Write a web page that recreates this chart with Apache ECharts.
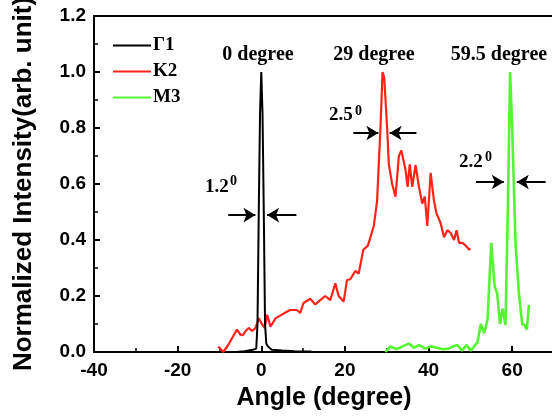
<!DOCTYPE html>
<html>
<head>
<meta charset="utf-8">
<script src="https://cdn.jsdelivr.net/npm/echarts@6/dist/echarts.min.js"></script>
<style>
  html, body { margin: 0; padding: 0; background: #fff; }
  #main { width: 552px; height: 416px; }
</style>
</head>
<body>
<div id="main"></div>
<script>
// Γ1 curve
var gammaAngle = [-6, -4, -2, -1.2, -0.9, -0.6, -0.3, 0, 0.3, 0.6, 0.9, 1.2, 1.6, 2.5, 5, 8, 12];
var gammaValue = [0, 0.003, 0.008, 0.012, 0.1, 0.5, 0.85, 1.0, 0.85, 0.5, 0.1, 0.03, 0.02, 0.008, 0.005, 0.003, 0.002];

// K2 curve
var k2Angle = [-10.3, -9.1, -7.9, -6.7, -5.8, -5, -4.4, -3.8, -3, -2.2, -1.4, -0.6, 0.15, 0.8, 1.4, 2.2, 3.4, 4.5, 5.7, 6.9, 8.5, 9.3, 10.1, 11.7, 12.9, 14.1, 15.3, 16.5, 17.7, 18.5, 19.7, 20.5, 21.3, 22.5, 23.3, 24.4, 25.5, 26.3, 26.9, 27.7, 28.5, 29, 29.4, 30.1, 30.5, 31.3, 32.1, 32.9, 33.5, 34.5, 35, 35.5, 36.1, 36.9, 37.7, 38.5, 39.1, 39.7, 40.5, 41.3, 41.9, 42.9, 43.7, 44.5, 45.3, 46.1, 46.7, 47.3, 48.1, 48.9, 49.7, 50];
var k2Value = [0.02, 0, 0.025, 0.057, 0.08, 0.062, 0.06, 0.074, 0.086, 0.075, 0.085, 0.12, 0.1, 0.086, 0.133, 0.09, 0.12, 0.13, 0.14, 0.15, 0.15, 0.14, 0.175, 0.19, 0.17, 0.185, 0.2, 0.185, 0.245, 0.2, 0.18, 0.257, 0.26, 0.29, 0.28, 0.365, 0.38, 0.42, 0.45, 0.54, 0.8, 1.0, 0.98, 0.8, 0.67, 0.6, 0.555, 0.7, 0.72, 0.65, 0.59, 0.67, 0.59, 0.668, 0.59, 0.53, 0.555, 0.45, 0.64, 0.54, 0.495, 0.46, 0.41, 0.435, 0.425, 0.4, 0.435, 0.39, 0.39, 0.38, 0.365, 0.37];

// M3 curve
var m3Angle = [29.7, 30.9, 32.3, 33.8, 35.3, 36.5, 37.8, 39.2, 40.6, 42, 43.4, 44.8, 45.8, 46.9, 48, 49.1, 50.1, 51.7, 52.5, 53.3, 54.1, 55, 55.8, 56.4, 57.1, 57.7, 58.4, 59, 59.5, 60, 60.8, 61.6, 62.4, 63, 63.5, 64];
var m3Value = [0, 0.02, 0.01, 0.02, 0.03, 0.015, 0.025, 0.012, 0.02, 0.015, 0.01, 0.012, 0.02, 0.025, 0.005, 0.025, 0.005, 0.035, 0.1, 0.067, 0.115, 0.39, 0.235, 0.21, 0.1, 0.155, 0.096, 0.54, 1.0, 0.8, 0.39, 0.21, 0.1, 0.096, 0.08, 0.168];

var seriesNames = ['\u03931', 'K2', 'M3'];

// FWHM arrows [fromX, toX, y]
var fwhmArrows = [
  [-7.9, -1.4, 0.489], [8.4, 1.4, 0.489],
  [22.0, 28.0, 0.782], [37.1, 30.7, 0.782],
  [51.3, 58.0, 0.607], [68.0, 61.1, 0.607]
];

function pairs(xs, ys) {
  return xs.map(function (x, i) { return [x, ys[i]]; });
}

var chart = echarts.init(document.getElementById('main'));

var serifBold = { fontFamily: '"Liberation Serif", "DejaVu Serif", serif', fontWeight: 'bold', fill: '#000' };
function txt(str, x, y, size, align) {
  return {
    type: 'text', x: x, y: y,
    style: Object.assign({ text: str, fontSize: size, textAlign: align || 'left', textVerticalAlign: 'top' }, serifBold)
  };
}

var option = {
  backgroundColor: '#fff',
  animation: false,
  grid: {
    left: 94, right: -2, top: 16, bottom: 64,
    outerBoundsMode: 'none',
    show: true, borderColor: '#000', borderWidth: 2, backgroundColor: 'transparent'
  },
  legend: {
    data: seriesNames,
    orient: 'vertical',
    left: 108,
    top: 31,
    itemWidth: 38,
    itemHeight: 2,
    itemGap: 7,
    icon: 'rect',
    textStyle: { fontFamily: '"Liberation Serif", serif', fontWeight: 'bold', fontSize: 19, lineHeight: 18, color: '#000', padding: [0, 0, 0, -3] }
  },
  xAxis: {
    type: 'value',
    min: -40, max: 70, interval: 20,
    name: 'Angle (degree)',
    nameLocation: 'middle',
    nameGap: 34,
    nameTextStyle: { fontFamily: '"Liberation Sans", Arial, sans-serif', fontWeight: 'bold', fontSize: 25, color: '#000' },
    axisLine: { onZero: false, lineStyle: { color: '#000', width: 2 } },
    axisTick: { inside: true, length: 6, lineStyle: { color: '#000', width: 2 } },
    minorTick: { show: true, splitNumber: 2, length: 4, lineStyle: { color: '#000', width: 1.5 } },
    axisLabel: { showMaxLabel: false, margin: 9, fontFamily: '"Liberation Sans", Arial, sans-serif', fontWeight: 'bold', fontSize: 19, color: '#000' },
    splitLine: { show: false }
  },
  yAxis: {
    type: 'value',
    min: 0, max: 1.2, interval: 0.2,
    name: 'Normalized Intensity(arb. unit)',
    nameLocation: 'middle',
    nameGap: 57,
    nameTextStyle: { fontFamily: '"Liberation Sans", Arial, sans-serif', fontWeight: 'bold', fontSize: 26, color: '#000' },
    axisLine: { show: true, onZero: false, lineStyle: { color: '#000', width: 2 } },
    axisTick: { inside: true, length: 6, lineStyle: { color: '#000', width: 2 } },
    minorTick: { show: true, splitNumber: 2, length: 4, lineStyle: { color: '#000', width: 1.5 } },
    axisLabel: {
      margin: 8,
      formatter: function (v) { return v.toFixed(1); },
      fontFamily: '"Liberation Sans", Arial, sans-serif', fontWeight: 'bold', fontSize: 19, color: '#000'
    },
    splitLine: { show: false }
  },
  series: [
    {
      name: seriesNames[0], type: 'line', symbol: 'none', z: 3,
      data: pairs(gammaAngle, gammaValue),
      lineStyle: { color: '#000', width: 2 }, itemStyle: { color: '#000' },
      markLine: {
        silent: true,
        symbol: ['none', 'arrow'],
        symbolSize: [11, 12],
        label: { show: false },
        lineStyle: { color: '#000', width: 2, type: 'solid' },
        data: fwhmArrows.map(function (a) { return [{ coord: [a[0], a[2]] }, { coord: [a[1], a[2]] }]; })
      }
    },
    {
      name: seriesNames[1], type: 'line', symbol: 'none', z: 2,
      data: pairs(k2Angle, k2Value),
      lineStyle: { color: '#ff2318', width: 2.2 }, itemStyle: { color: '#ff2318' }
    },
    {
      name: seriesNames[2], type: 'line', symbol: 'none', z: 2,
      data: pairs(m3Angle, m3Value),
      lineStyle: { color: '#55f532', width: 2.6 }, itemStyle: { color: '#55f532' }
    }
  ],
  graphic: [
    txt('0 degree', 258, 45, 20, 'center'),
    txt('29 degree', 374, 45, 20, 'center'),
    txt('59.5 degree', 499, 45, 20, 'center'),
    txt('1.2', 205, 178, 19),
    txt('0', 230, 174, 14),
    txt('2.5', 329, 106, 19),
    txt('0', 355, 104, 14),
    txt('2.2', 459, 153, 19),
    txt('0', 485, 150, 14)
  ]
};

chart.setOption(option);
</script>
</body>
</html>
